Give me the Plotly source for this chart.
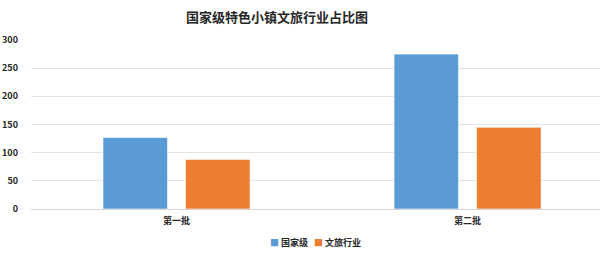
import plotly.graph_objects as go

categories = ["第一批", "第二批"]
national = [127, 275]
culture_tourism = [88, 145]
series_names = ["国家级", "文旅行业"]
series_colors = ["#5B9BD5", "#ED7D31"]
title_text = "国家级特色小镇文旅行业占比图"
y_ticks = [0, 50, 100, 150, 200, 250, 300]

font_family = "Noto Sans CJK SC, Microsoft YaHei, sans-serif"

fig = go.Figure()
for vals, name, color in zip([national, culture_tourism], series_names, series_colors):
    fig.add_trace(go.Bar(
        x=categories, y=vals, name=name, showlegend=False,
        marker=dict(color=color, line=dict(color="rgba(255,255,255,0.6)", width=1)),
    ))

# compact legend drawn as text with coloured squares
legend_x = [0.4165, 0.4935]
for lx, name, color in zip(legend_x, series_names, series_colors):
    fig.add_annotation(
        text=f"<span style='color:{color}'>■</span> {name}",
        xref="paper", yref="paper", x=lx, y=-0.2, xanchor="left", yanchor="middle",
        showarrow=False, font=dict(size=9, color="#262626", family=font_family, weight="bold"),
    )

fig.update_layout(
    width=600, height=259,
    margin=dict(l=31, r=0, t=40, b=50),
    paper_bgcolor="white", plot_bgcolor="white",
    barmode="group", bargap=0.433, bargroupgap=0.218,
    showlegend=False,
    font=dict(family=font_family, color="#404040", size=9),
    title=dict(
        text="<b>" + title_text + "</b>",
        x=0.4617, xref="container", xanchor="center",
        y=1 - 17 / 259, yref="container", yanchor="middle",
        font=dict(size=13, color="#262626", family=font_family),
    ),
    xaxis=dict(
        type="category", range=[-0.5, 1.455],
        showgrid=False, showline=False, ticks="", ticklabelstandoff=5,
        tickfont=dict(size=9, color="#262626", weight="bold"),
    ),
    yaxis=dict(
        range=[0, 300], tickvals=y_ticks,
        showgrid=True, gridcolor="#E3E3E3", gridwidth=1,
        zeroline=True, zerolinecolor="#D4D4D4", zerolinewidth=1,
        showline=False, ticks="", ticklabelstandoff=12,
        tickfont=dict(size=9, color="#262626", weight="bold"),
    ),
)

fig.write_html("out.html")
